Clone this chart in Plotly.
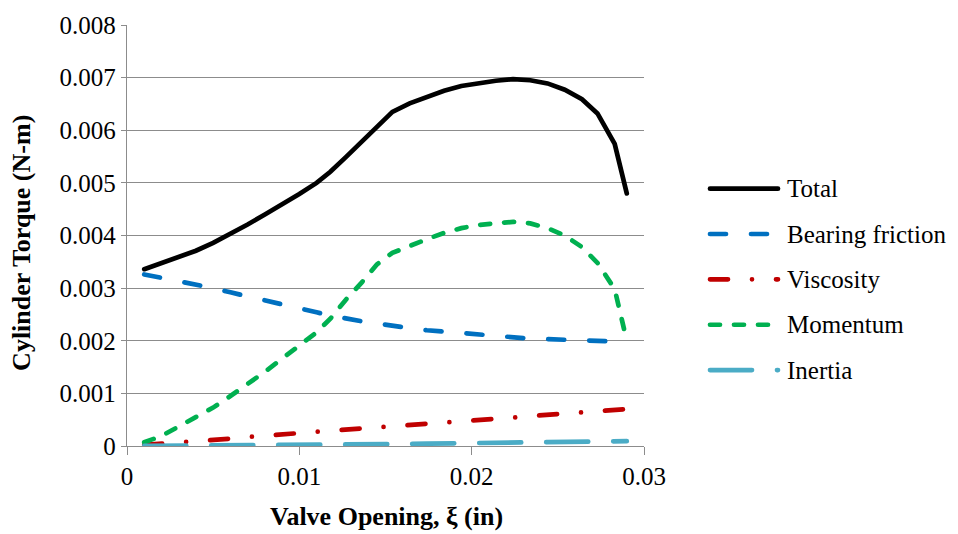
import plotly.graph_objects as go

# Valve opening (in) at which each torque component was evaluated
opening = [0.001, 0.002, 0.003, 0.004, 0.005, 0.006, 0.007, 0.008, 0.009, 0.010,
           0.011, 0.0118, 0.0127, 0.0136, 0.0145, 0.0154, 0.0164, 0.0174, 0.0184, 0.0194,
           0.0204, 0.0214, 0.0224, 0.0234, 0.0244, 0.0254, 0.0264, 0.0273, 0.0283, 0.029]

# Torque components (N-m)
total = [0.00336, 0.00347, 0.00358, 0.00371, 0.00386, 0.00403, 0.00421, 0.00440, 0.00459, 0.00479,
         0.00500, 0.00521, 0.00549, 0.00578, 0.00607, 0.00635, 0.00651, 0.00664, 0.00675, 0.00684,
         0.00690, 0.00694, 0.00697, 0.00695, 0.00689, 0.00677, 0.00659, 0.00632, 0.00574, 0.00480]
bearing_friction = [0.00326, 0.00320, 0.00314, 0.00307, 0.00300, 0.00292, 0.00284, 0.00276, 0.00269, 0.00261,
                    0.00254, 0.00248, 0.00242, 0.00237, 0.00233, 0.00228, 0.00224, 0.00220, 0.00217, 0.00214,
                    0.00211, 0.00208, 0.00206, 0.00204, 0.00203, 0.00202, 0.00200, 0.00199, 0.00198, 0.00198]
viscosity = [0.00002, 0.00004, 0.00007, 0.00009, 0.00012, 0.00014, 0.00017, 0.00019, 0.00022, 0.00024,
             0.00027, 0.00029, 0.00031, 0.00033, 0.00035, 0.00037, 0.00040, 0.00042, 0.00045, 0.00047,
             0.00049, 0.00052, 0.00054, 0.00057, 0.00059, 0.00061, 0.00064, 0.00066, 0.00068, 0.00070]
momentum = [0.00007, 0.00019, 0.00037, 0.00055, 0.00073, 0.00095, 0.00117, 0.00141, 0.00166, 0.00190,
            0.00216, 0.00242, 0.00278, 0.00310, 0.00345, 0.00367, 0.00381, 0.00393, 0.00405, 0.00414,
            0.00420, 0.00424, 0.00426, 0.00423, 0.00414, 0.00400, 0.00378, 0.00348, 0.00298, 0.00200]
inertia = [0.000001, 0.000002, 0.000004, 0.000006, 0.000008, 0.000010, 0.000012, 0.000015, 0.000017, 0.000020,
           0.000023, 0.000025, 0.000028, 0.000031, 0.000034, 0.000037, 0.000040, 0.000044, 0.000047, 0.000051,
           0.000054, 0.000058, 0.000062, 0.000066, 0.000070, 0.000074, 0.000079, 0.000083, 0.000089, 0.000093]

x_ticks = [0, 0.01, 0.02, 0.03]
x_tick_labels = ["0", "0.01", "0.02", "0.03"]
y_ticks = [0, 0.001, 0.002, 0.003, 0.004, 0.005, 0.006, 0.007, 0.008]
y_tick_labels = ["0", "0.001", "0.002", "0.003", "0.004", "0.005", "0.006", "0.007", "0.008"]

series = [
    ("Total", total, "#000000", "solid"),
    ("Bearing friction", bearing_friction, "#0070C0", "16px,25px"),
    ("Viscosity", viscosity, "#C00000", "18px,24px,0px,24px"),
    ("Momentum", momentum, "#00B050", "10px,14px"),
    ("Inertia", inertia, "#4BACC6", "42px,25px"),
]

FONT = "Liberation Serif"
W, H = 958, 534
ML, MR, MT, MB = 127, 314, 19, 88
LW = 4.7
GRID = "#8c8c8c"

fig = go.Figure()
for name, vals, color, dash in series:
    fig.add_trace(go.Scatter(x=opening, y=vals, mode="lines", name=name,
                             line=dict(color=color, width=LW, dash=dash),
                             showlegend=False))

# pixel -> paper helpers for the legend block and axis titles
pw, ph = W - ML - MR, H - MT - MB
def px(xp):
    return (xp - ML) / pw
def py(yp):
    return (H - MB - yp) / ph

shapes, annotations = [], []
legend_top, legend_step = 185, 46
for i, (name, vals, color, dash) in enumerate(series):
    yc = legend_top + i * legend_step
    shapes.append(dict(type="line", xref="paper", yref="paper",
                       x0=px(710), x1=px(778), y0=py(yc), y1=py(yc),
                       line=dict(color=color, width=LW, dash=dash)))
    annotations.append(dict(text=name, xref="paper", yref="paper",
                            x=px(785), y=py(yc), xanchor="left", yanchor="middle",
                            showarrow=False, font=dict(family=FONT, size=25, color="black")))

annotations.append(dict(text="<b>Cylinder Torque (N-m)</b>", xref="paper", yref="paper",
                        x=px(22), y=py(240), textangle=-90, showarrow=False,
                        xanchor="center", yanchor="middle",
                        font=dict(family=FONT, size=26, color="black")))
# "&#958;" is the Greek xi
annotations.append(dict(text="<b>Valve Opening, &#958; (in)</b>", xref="paper", yref="paper",
                        x=px(386), y=py(517), showarrow=False,
                        xanchor="center", yanchor="middle",
                        font=dict(family=FONT, size=26, color="black")))

fig.update_layout(
    width=W, height=H,
    margin=dict(l=ML, r=MR, t=MT, b=MB, pad=0),
    paper_bgcolor="white", plot_bgcolor="white",
    font=dict(family=FONT, size=25, color="black"),
    shapes=shapes, annotations=annotations,
    xaxis=dict(range=[0, 0.03], tickvals=x_ticks, ticktext=x_tick_labels,
               showgrid=False, zeroline=False, showline=True, linecolor=GRID, linewidth=1.3,
               ticks="outside", ticklen=8, tickcolor=GRID, tickwidth=1.3,
               tickfont=dict(family=FONT, size=25, color="black")),
    yaxis=dict(range=[0, 0.008], tickvals=y_ticks, ticktext=y_tick_labels,
               showgrid=True, gridcolor=GRID, gridwidth=1.3, zeroline=False,
               showline=True, linecolor=GRID, linewidth=1.3,
               ticks="outside", ticklen=5, tickcolor=GRID, tickwidth=1.3,
               tickfont=dict(family=FONT, size=25, color="black")),
)

round_caps = ("var s=document.createElement('style');"
              "s.textContent='.scatterlayer .js-line, .shapelayer path{stroke-linecap:round;}';"
              "document.head.appendChild(s);")
fig.write_html("out.html", post_script=round_caps)
